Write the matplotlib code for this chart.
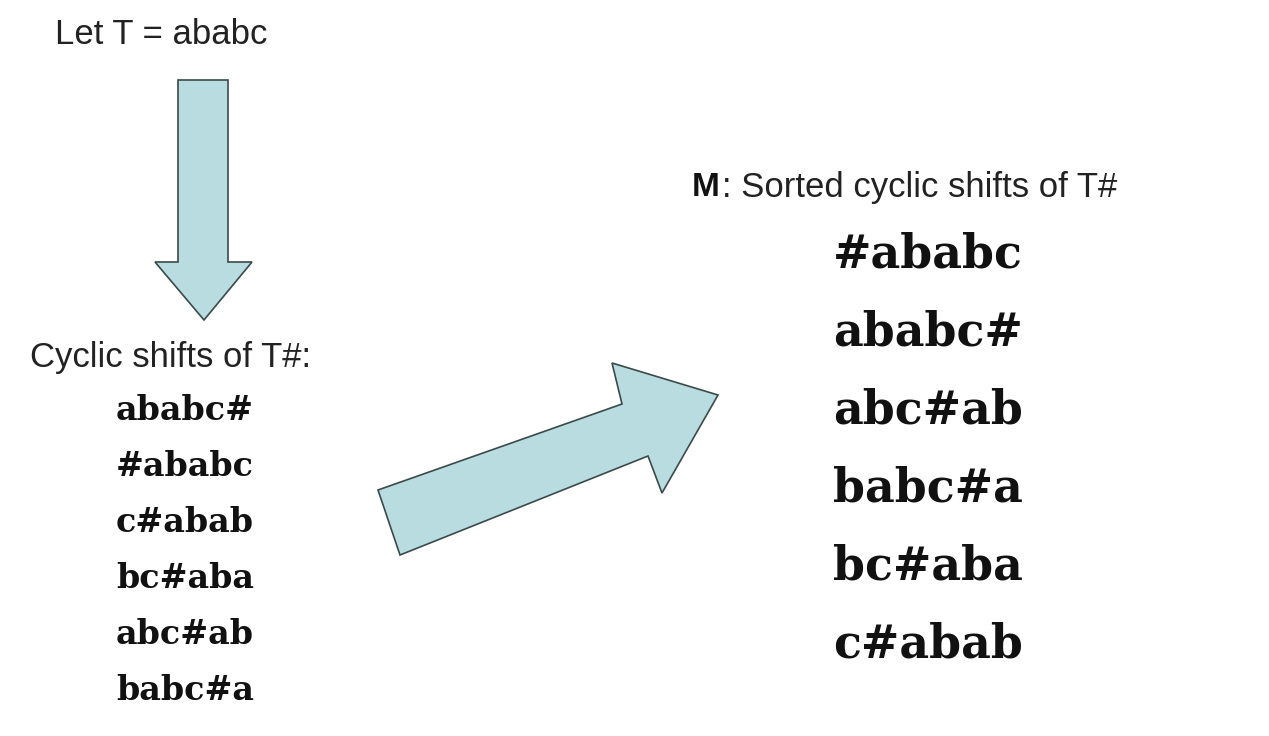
import matplotlib
matplotlib.use("Agg")
import matplotlib.pyplot as plt
from matplotlib.patches import Polygon

left_title = "Let T = ababc"
left_label = "Cyclic shifts of T#:"
left_rows = ["ababc#", "#ababc", "c#abab", "bc#aba", "abc#ab", "babc#a"]
right_label = "Sorted cyclic shifts of T#"
right_rows = ["#ababc", "ababc#", "abc#ab", "babc#a", "bc#aba", "c#abab"]

fill = "#B9DCE0"
edge = "#3a4a4a"

fig = plt.figure(figsize=(12.69, 7.36), dpi=100)
ax = fig.add_axes([0, 0, 1, 1])
ax.set_xlim(0, 1269)
ax.set_ylim(736, 0)
ax.axis("off")

sans = "Liberation Sans"
serif = "DejaVu Serif"

ax.text(55, 35, left_title, fontsize=25, family=sans, color="#222222", va="center")
ax.text(30, 357, left_label, fontsize=25, family=sans, color="#222222", va="center")
for i, row in enumerate(left_rows):
    ax.text(116, 410 + i * 56, row, fontsize=24, family=serif, weight="bold",
            color="#111111", va="center")

ax.text(692, 188, "M", fontsize=24, family=sans, weight="bold", color="#111111", va="center")
ax.text(722, 188, ": " + right_label, fontsize=25, family=sans, color="#222222", va="center")
for i, row in enumerate(right_rows):
    ax.text(833, 255 + i * 78, row, fontsize=33, family=serif, weight="bold",
            color="#111111", va="center")

down = [(178, 80), (228, 80), (228, 262), (252, 262), (204, 320), (155, 262), (178, 262)]
ax.add_patch(Polygon(down, closed=True, facecolor=fill, edgecolor=edge, linewidth=1.2))

diag = [(400, 555), (378, 490), (622, 404), (612, 363), (718, 395), (662, 493),
        (648, 456)]
ax.add_patch(Polygon(diag, closed=True, facecolor=fill, edgecolor=edge, linewidth=1.2))

fig.savefig("out.png", dpi=100)
